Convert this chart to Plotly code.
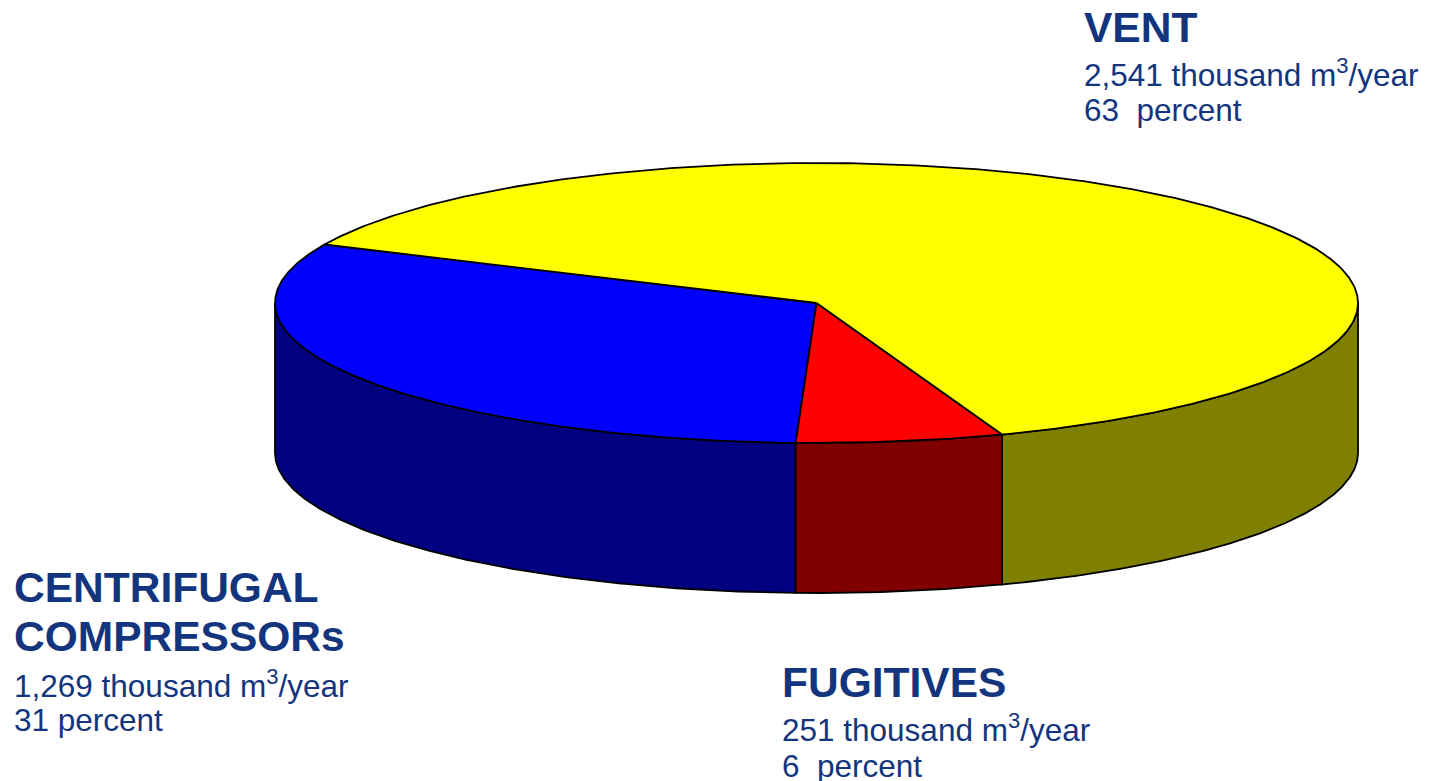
import numpy as np
import plotly.graph_objects as go

# ---- data (counter-clockwise order starting at the blue slice) ----
categories = ["CENTRIFUGAL COMPRESSORs", "FUGITIVES", "VENT"]
heading_lines = [["CENTRIFUGAL", "COMPRESSORs"], ["FUGITIVES"], ["VENT"]]
values = [1269, 251, 2541]          # thousand m3/year
percents = [31, 6, 63]
percent_sep = [" ", "\u00a0 ", "\u00a0 "]
top_colors = ["#0000FF", "#FF0000", "#FFFF00"]
side_colors = ["#000080", "#800000", "#808000"]

# ---- layout / geometry parameters (pixel space) ----
W, H = 1429, 781
OFF = 8  # page body margin
cx, cy, rx, ry, depth = 816.5, 303, 541.5, 140, 150
start_deg = 155.3
text_color = "#12357E"
label_pos = {  # left x, heading mids, line2 mid, line3 mid
    "CENTRIFUGAL COMPRESSORs": (13, [587, 636], 684, 720),
    "FUGITIVES": (781, [682], 728, 766),
    "VENT": (1083, [27], 72.5, 110),
}

total = sum(values)
spans = [v / total * 360.0 for v in values]


def arc(t0, t1, n=200, dy=0.0):
    t = np.radians(np.linspace(t0, t1, n))
    return cx + rx * np.cos(t), cy - ry * np.sin(t) + dy


fig = go.Figure()

a = start_deg
bounds = []
for v, sp in zip(values, spans):
    bounds.append((a, a + sp))
    a += sp

# sides (only the front half, angles 180..360, is visible)
for (t0, t1), col in zip(bounds, side_colors):
    for off in (0, 360, -360):
        s0, s1 = max(t0 + off, 180), min(t1 + off, 360)
        if s1 > s0:
            xt, yt = arc(s0, s1)
            xb, yb = arc(s1, s0, dy=depth)
            xs = np.concatenate([xt, xb, xt[:1]])
            ys = np.concatenate([yt, yb, yt[:1]])
            fig.add_trace(go.Scatter(x=xs, y=ys, mode="lines", fill="toself",
                                     fillcolor=col, line=dict(color="black", width=1.8),
                                     hoverinfo="skip", showlegend=False))

# top faces
for (t0, t1), col in zip(bounds, top_colors):
    xa, ya = arc(t0, t1, n=400)
    xs = np.concatenate([[cx], xa, [cx]])
    ys = np.concatenate([[cy], ya, [cy]])
    fig.add_trace(go.Scatter(x=xs, y=ys, mode="lines", fill="toself",
                             fillcolor=col, line=dict(color="black", width=1.8),
                             hoverinfo="skip", showlegend=False))

# labels
font_family = "Liberation Sans, Arial, sans-serif"
for cat, heads, v, p, sep in zip(categories, heading_lines, values, percents, percent_sep):
    lx, hmids, m2, m3 = label_pos[cat]
    for h, ym in zip(heads, hmids):
        fig.add_annotation(x=lx, y=ym, text=f"<b>{h}</b>", showarrow=False,
                           xanchor="left", yanchor="middle", borderpad=0,
                           font=dict(family=font_family, size=42.5, color=text_color))
    fig.add_annotation(x=lx, y=m2, text=f"{v:,} thousand m<sup>3</sup>/year", showarrow=False,
                       xanchor="left", yanchor="middle", borderpad=0,
                       font=dict(family=font_family, size=31.5, color=text_color))
    fig.add_annotation(x=lx, y=m3, text=f"{p}{sep}percent", showarrow=False,
                       xanchor="left", yanchor="middle", borderpad=0,
                       font=dict(family=font_family, size=31.5, color=text_color))

fig_w, fig_h = W - OFF, H - OFF
fig.update_xaxes(range=[OFF, OFF + fig_w], visible=False, fixedrange=True)
fig.update_yaxes(range=[OFF + fig_h, OFF], visible=False, fixedrange=True)
fig.update_layout(width=fig_w, height=fig_h, margin=dict(l=0, r=0, t=0, b=0),
                  plot_bgcolor="white", paper_bgcolor="white", showlegend=False)

fig.write_html("out.html")
